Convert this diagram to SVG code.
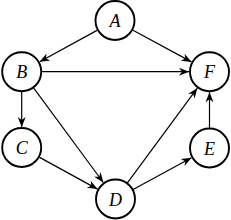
<svg xmlns="http://www.w3.org/2000/svg" width="231" height="220" viewBox="0 0 231 220">
<style>
.node circle{fill:#fff;stroke:#000;stroke-width:1.9}
.node text{font-family:"Liberation Serif","DejaVu Serif",serif;font-style:italic;font-size:18px;fill:#000;text-anchor:middle;dominant-baseline:central}
.edges line{stroke:#000;stroke-width:1.2;marker-end:url(#arr)}
</style>
<defs>
<marker id="arr" markerUnits="userSpaceOnUse" markerWidth="12" markerHeight="10" viewBox="-11 -5 12 10" refX="0" refY="0" orient="auto">
<path d="M0,0 L-10,-4 L-7,0 L-10,4 Z" fill="#000"/>
</marker>
</defs>
<g class="edges">
<line x1="97" y1="30.4" x2="39.7" y2="61.8"/>
<line x1="133" y1="30.3" x2="191.5" y2="61.9"/>
<line x1="41.7" y1="71.7" x2="189" y2="71.7"/>
<line x1="21.7" y1="91.7" x2="21.7" y2="127"/>
<line x1="33.6" y1="87.8" x2="103.3" y2="182.5"/>
<line x1="39.2" y1="157.1" x2="97.5" y2="189.1"/>
<line x1="133.1" y1="189.5" x2="191.5" y2="157.8"/>
<line x1="127.4" y1="182.9" x2="197.3" y2="88.2"/>
<line x1="209.5" y1="128" x2="209.5" y2="92.2"/>
</g>
<g id="A" class="node"><circle cx="115" cy="20.5" r="19.5"/><text x="115" y="21">A</text></g>
<g id="B" class="node"><circle cx="21.7" cy="71.7" r="19.5"/><text x="21.7" y="72.2">B</text></g>
<g id="F" class="node"><circle cx="209.5" cy="71.7" r="19.5"/><text x="209.5" y="72.2">F</text></g>
<g id="C" class="node"><circle cx="21.7" cy="147.5" r="19.5"/><text x="21.7" y="148">C</text></g>
<g id="E" class="node"><circle cx="209.5" cy="148" r="19.5"/><text x="209.5" y="148.5">E</text></g>
<g id="D" class="node"><circle cx="115.5" cy="199" r="19.5"/><text x="115.5" y="199.5">D</text></g>
</svg>
